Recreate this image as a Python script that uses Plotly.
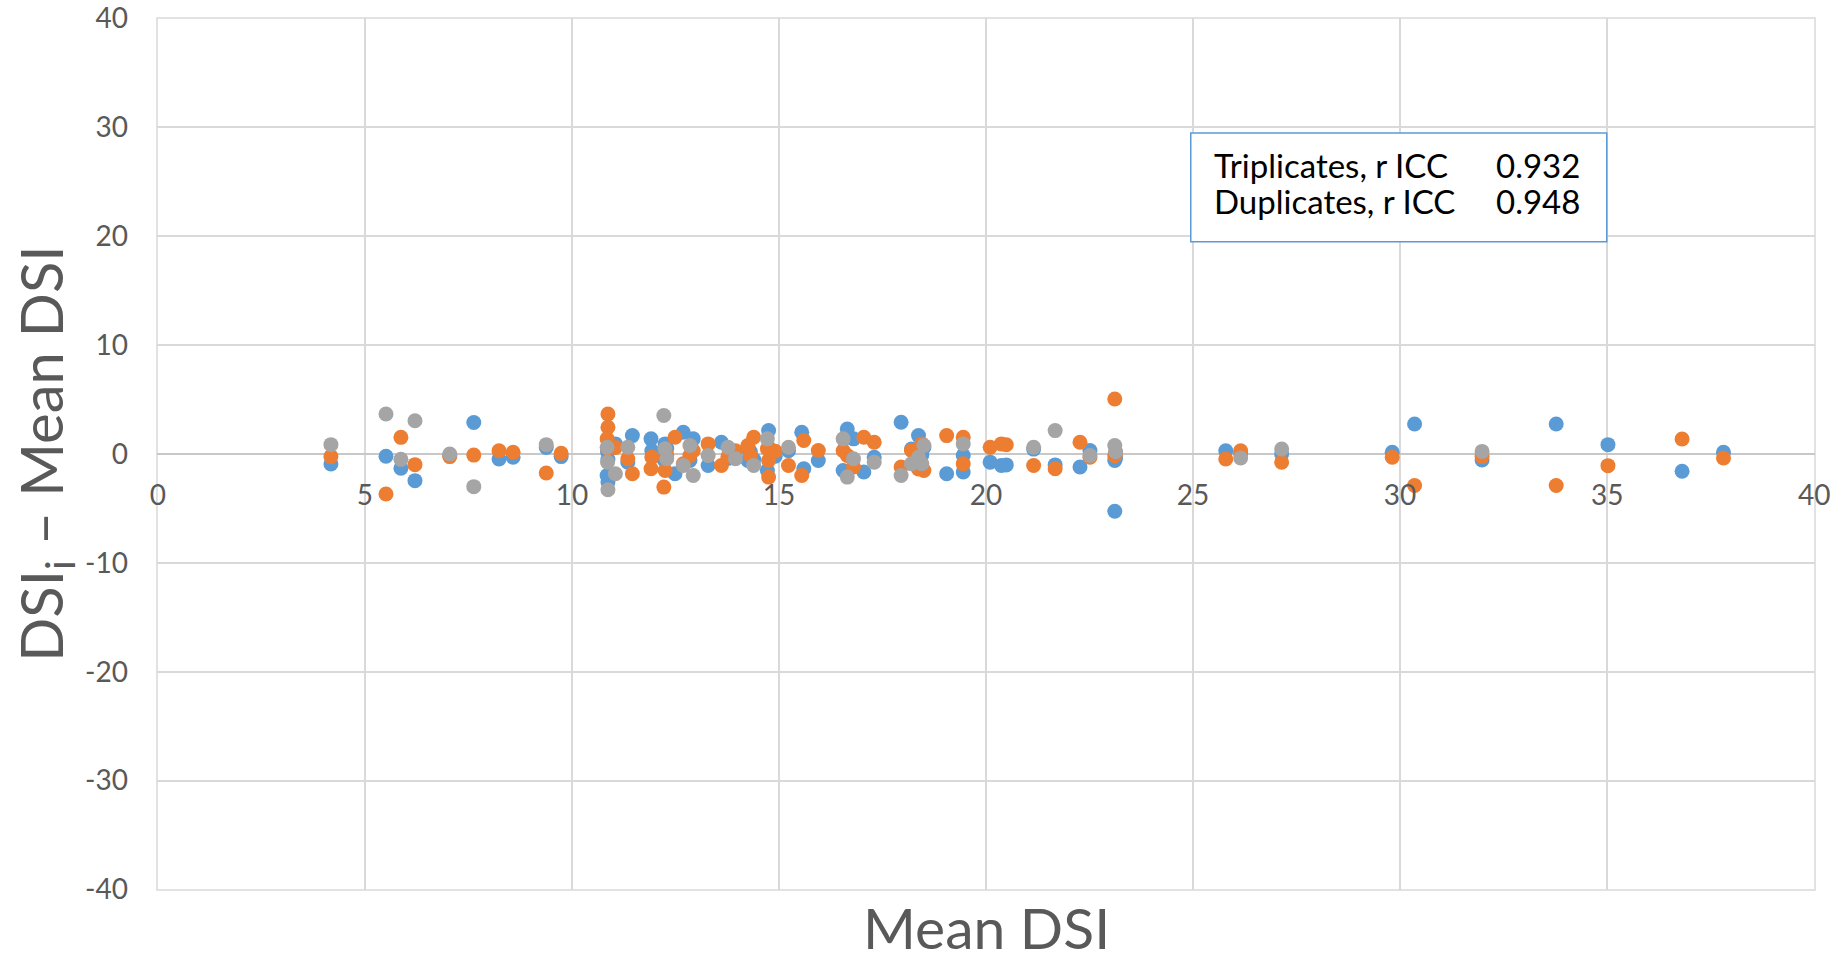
import plotly.graph_objects as go

# Mean DSI per subject (x) and deviation of each replicate from the subject mean (y)
mean_dsi = [4.18, 5.51, 5.87, 6.21, 7.05, 7.63, 8.24, 8.58, 9.38, 9.74,
            10.87, 10.87, 10.85, 10.86, 11.05, 11.35, 11.46, 11.91, 11.93, 12.22,
            12.25, 12.29, 12.49, 12.69, 12.85, 12.93, 13.29, 13.61, 13.77, 13.95,
            14.25, 14.31, 14.39, 14.75, 14.72, 14.75, 14.91, 15.23, 15.55, 15.60,
            15.95, 16.65, 16.55, 16.80, 17.05, 17.30, 17.95, 18.20, 18.37, 18.45,
            18.50, 19.05, 19.45, 19.45, 20.10, 20.37, 20.49, 21.15, 21.67, 22.27,
            22.51, 23.11, 23.11, 23.13, 25.79, 26.15, 27.14, 29.81, 30.35, 31.98,
            33.77, 35.02, 36.81, 37.81]

diff_rep1 = [-0.92, -0.20, -1.31, -2.45, -0.10, 2.90, -0.46, -0.30, 0.60, -0.24,
             -0.50, -2.58, -1.97, 0.20, 0.93, -0.75, 1.69, 1.39, 0.30, -0.50,
             0.93, 0.50, -1.82, 2.00, -0.60, 1.39, -1.05, 1.08, -0.40, 0.20,
             -0.60, 0.20, -0.50, 2.15, -1.51, 0.60, -0.20, 0.30, 2.00, -1.36,
             -0.60, 2.30, -1.51, 1.39, -1.66, -0.30, 2.92, 0.46, 1.69, -0.10,
             0.60, -1.82, -0.14, -1.66, -0.75, -1.05, -1.00, 0.45, -1.00, -1.20,
             0.32, -5.26, -0.60, -0.35, 0.30, 0.05, 0.00, 0.15, 2.75, -0.55,
             2.75, 0.86, -1.59, 0.15]

diff_rep2 = [-0.24, -3.67, 1.53, -0.98, -0.24, -0.10, 0.30, 0.15, -1.74, 0.06,
             3.68, 2.46, 1.39, 0.50, 0.60, -0.44, -1.82, -1.36, -0.29, -3.04,
             -1.51, -0.10, 1.54, -0.90, -0.14, 0.30, 0.93, -1.05, -0.20, 0.30,
             0.78, -0.14, 1.54, -2.12, 0.48, -0.60, 0.25, -1.05, -1.97, 1.24,
             0.32, -0.14, 0.30, -1.20, 1.54, 1.08, -1.20, 0.32, -1.38, 0.93,
             -1.51, 1.69, -0.90, 1.54, 0.62, 0.93, 0.85, -1.05, -1.36, 1.08,
             -0.30, 5.05, -0.15, 0.10, -0.46, 0.30, -0.76, -0.30, -2.90, -0.24,
             -2.90, -1.07, 1.38, -0.37]

diff_rep3 = [0.86, 3.67, -0.49, 3.06, 0.00, -3.00, None, None, 0.86, None,
             -3.28, None, 0.62, -0.75, -1.82, 0.62, None, None, None, 3.53,
             0.48, -0.44, None, -1.05, 0.78, -1.97, -0.14, None, 0.62, -0.44,
             None, None, -1.05, None, 1.39, None, None, 0.62, None, None,
             None, -2.12, 1.39, -0.44, None, -0.75, -1.97, -0.90, -0.30, -0.90,
             0.78, None, 0.93, None, None, None, None, 0.62, 2.15, None,
             -0.14, None, 0.78, 0.20, None, -0.37, 0.46, None, None, 0.24,
             None, None, None, None]

series_colors = ["#5B9BD5", "#ED7D31", "#A5A5A5"]
x_ticks = [0, 5, 10, 15, 20, 25, 30, 35, 40]
y_ticks = [-40, -30, -20, -10, 0, 10, 20, 30, 40]
icc_labels = ["Triplicates, r ICC", "Duplicates, r ICC"]
icc_values = ["0.932", "0.948"]

FONT = "Lato, 'Open Sans', sans-serif"
AXIS_GRAY = "#595959"
GRID = "#D9D9D9"

fig = go.Figure()
for ys, col in zip([diff_rep1, diff_rep2, diff_rep3], series_colors):
    fig.add_trace(go.Scatter(
        x=mean_dsi, y=ys, mode="markers",
        marker=dict(color=col, size=15, line=dict(width=0)),
        showlegend=False, hoverinfo="x+y"))

fig.update_layout(
    width=1847, height=963, autosize=False,
    paper_bgcolor="white", plot_bgcolor="white",
    margin=dict(l=157, r=32, t=18, b=73, pad=0, autoexpand=False),
    font=dict(family=FONT, color=AXIS_GRAY),
    xaxis=dict(range=[-0.02, 40.02], tickvals=x_ticks, ticktext=[str(v) for v in x_ticks],
               showgrid=True, gridcolor=GRID, gridwidth=1.5,
               zeroline=False, showline=False, automargin=False,
               anchor="free", position=0.5, ticks="",
               ticklabelstandoff=22,
               tickfont=dict(size=28, color=AXIS_GRAY, family=FONT)),
    yaxis=dict(range=[-40.05, 40.05], tickvals=y_ticks, ticktext=[str(v) for v in y_ticks],
               showgrid=True, gridcolor=GRID, gridwidth=1.5,
               zeroline=True, zerolinecolor="#C8C8C8", zerolinewidth=2,
               showline=False, ticks="", ticklabelstandoff=28, automargin=False,
               tickfont=dict(size=28, color=AXIS_GRAY, family=FONT)),
)

# plot-area frame (the outermost gridlines at 0/40 and -40/40)
fig.add_shape(type="rect", xref="paper", yref="paper", x0=0, x1=1, y0=0, y1=1,
              line=dict(color=GRID, width=1.5), layer="below")

# axis titles
fig.add_annotation(text="Mean DSI", xref="paper", yref="paper", x=0.5005, y=-0.0840,
                   xanchor="center", yanchor="bottom", showarrow=False,
                   font=dict(size=57, color=AXIS_GRAY, family=FONT))
fig.add_annotation(text="DSI<sub>i</sub> – Mean DSI", xref="paper", yref="paper",
                   x=-0.0677, y=0.5, xanchor="center", yanchor="middle",
                   textangle=-90, showarrow=False,
                   font=dict(size=58, color=AXIS_GRAY, family=FONT))

# ICC text box
fig.add_shape(type="rect", xref="paper", yref="paper",
              x0=0.6235, x1=0.8744, y0=0.7433, y1=0.8682,
              line=dict(color="#5B9BD5", width=1.5), fillcolor="white", layer="above")
span = "<span style='font-size:33px'>{}</span>"
fig.add_annotation(text="<br>".join(span.format(t) for t in icc_labels),
                   xref="paper", yref="paper", x=0.6362, y=0.8103,
                   xanchor="left", yanchor="middle", align="left", showarrow=False,
                   font=dict(size=28, color="black", family=FONT))
fig.add_annotation(text="<br>".join(span.format(t) for t in icc_values),
                   xref="paper", yref="paper", x=0.8593, y=0.8103,
                   xanchor="right", yanchor="middle", align="right", showarrow=False,
                   font=dict(size=28, color="black", family=FONT))

fig.write_html("out.html", config={"displayModeBar": False},
               post_script="document.body.style.margin='0px';"
                           "document.body.style.overflow='hidden';")
